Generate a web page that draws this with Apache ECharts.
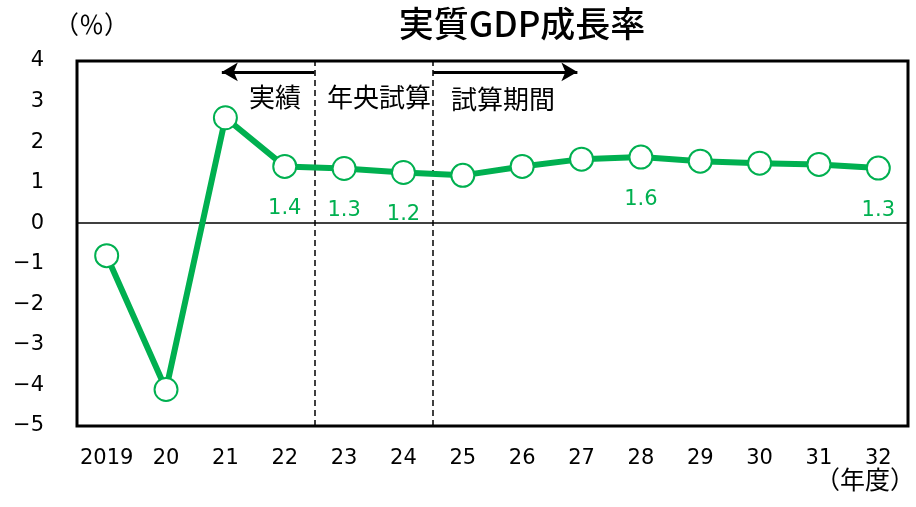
<!DOCTYPE html>
<html><head><meta charset="utf-8">
<script src="https://cdn.jsdelivr.net/npm/echarts@6/dist/echarts.min.js"></script>
<style>html,body{margin:0;padding:0;background:#fff}#c{width:916px;height:507px}</style>
</head><body><div id="c"></div>
<script>
const categories = ['2019','20','21','22','23','24','25','26','27','28','29','30','31','32'];
const growth = [-0.8, -4.1, 2.6, 1.4, 1.35, 1.25, 1.18, 1.4, 1.58, 1.63, 1.53, 1.48, 1.45, 1.36];
const labelText = ['', '', '', '1.4', '1.3', '1.2', '', '', '', '1.6', '', '', '', '1.3'];
const yTicks = {min: -5, max: 4, interval: 1};
const periodBounds = [4, 6];          // category-boundary positions of dashed dividers
const arrowY = 3.73;
const arrowLeftEnd = 2.44, arrowRightEnd = 8.43;

const JP = 'Noto Sans CJK JP';
const NUM = 'DejaVu Sans';
const GREEN = '#00B050';

function txt(s, size, extra) {
  return Object.assign({type: 'text', style: {text: s, fontSize: size, fontFamily: JP, fill: '#000'}}, extra);
}

const chart = echarts.init(document.getElementById('c'));
chart.setOption({
  animation: false,
  title: {
    text: '実質GDP成長率', left: 517, top: 1, textAlign: 'center',
    textStyle: {fontFamily: JP, fontSize: 35, fontWeight: 500, color: '#000'}
  },
  grid: {left: 77, right: 8, top: 61, bottom: 81, show: true, borderColor: '#000', borderWidth: 3, backgroundColor: 'transparent'},
  xAxis: [{
    type: 'category', data: categories, boundaryGap: true,
    axisLine: {show: false}, axisTick: {show: false},
    axisLabel: {fontFamily: NUM, fontSize: 21, color: '#000', margin: 22, interval: 0}
  }, {
    type: 'value', min: 0, max: categories.length, show: false
  }],
  yAxis: {
    type: 'value', min: yTicks.min, max: yTicks.max, interval: yTicks.interval,
    axisLine: {show: false}, axisTick: {show: false}, splitLine: {show: false},
    axisLabel: {fontFamily: NUM, fontSize: 21, color: '#000', margin: 33,
      formatter: v => String(v).replace('-', '\u2212')}
  },
  graphic: [
    txt('（％）', 25, {left: 54, top: 12}),
    txt('（年度）', 25, {left: 815, top: 467}),
    txt('実績', 26, {left: 249, top: 84}),
    txt('年央試算', 26, {left: 327, top: 84}),
    txt('試算期間', 26, {left: 451, top: 86})
  ],
  series: [{
    type: 'line', xAxisIndex: 1, data: [], silent: true,
    markLine: {
      silent: true, animation: false, symbol: 'none', label: {show: false},
      data: [
        {yAxis: 0, lineStyle: {color: '#000', width: 1.5, type: 'solid'}},
        [{coord: [periodBounds[0], yTicks.min]}, {coord: [periodBounds[0], yTicks.max]}],
        [{coord: [periodBounds[1], yTicks.min]}, {coord: [periodBounds[1], yTicks.max]}]
      ],
      lineStyle: {color: '#000', width: 1.5, type: [6, 4]}
    }
  }, {
    type: 'line', xAxisIndex: 1, data: [], silent: true,
    markLine: {
      silent: true, animation: false, symbol: ['none', 'arrow'], symbolSize: [14, 16], label: {show: false},
      lineStyle: {color: '#000', width: 3, type: 'solid'},
      data: [
        [{coord: [periodBounds[0], arrowY]}, {coord: [arrowLeftEnd, arrowY]}],
        [{coord: [periodBounds[1], arrowY]}, {coord: [arrowRightEnd, arrowY]}]
      ]
    }
  }, {
    type: 'line', data: growth, symbol: 'circle', symbolSize: 23,
    lineStyle: {color: GREEN, width: 6},
    itemStyle: {color: '#fff', borderColor: GREEN, borderWidth: 2},
    label: {
      show: true, position: 'bottom', distance: 19,
      fontFamily: NUM, fontSize: 21, color: GREEN,
      formatter: p => labelText[p.dataIndex]
    },
    z: 5
  }]
});
</script></body></html>
